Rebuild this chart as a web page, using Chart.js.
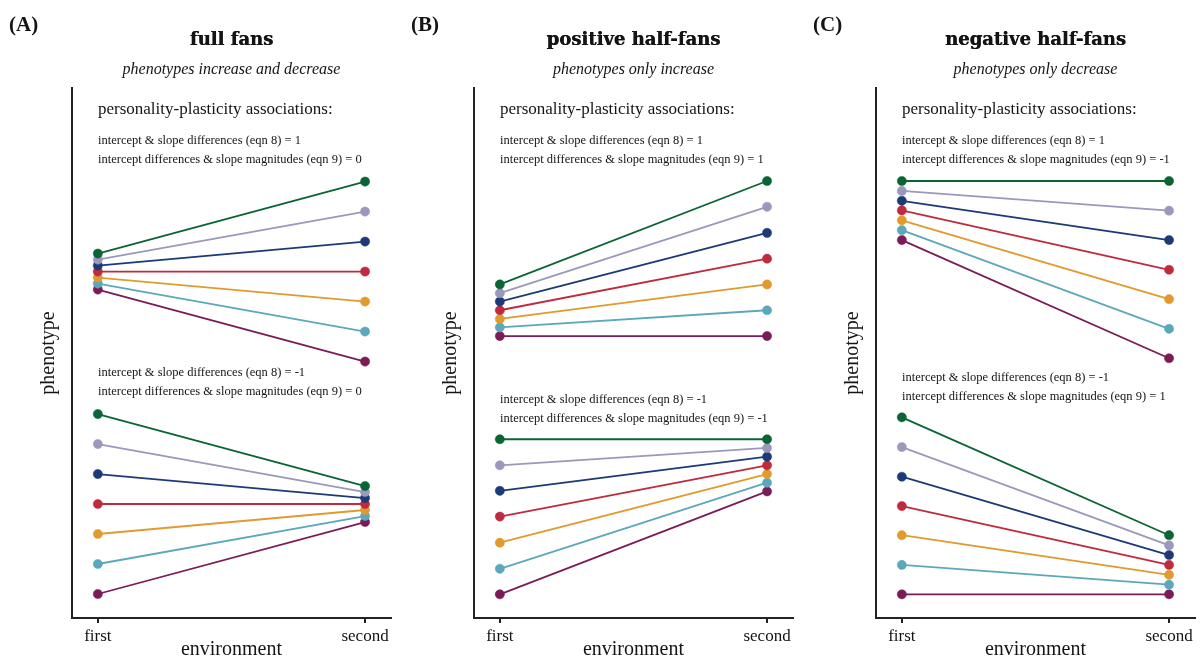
<!DOCTYPE html>
<html lang="en">
<head>
  <meta charset="UTF-8">
  <title>personality-plasticity fans</title>
  <script src="https://cdn.jsdelivr.net/npm/chart.js"></script>
  <style>
    body { margin: 0; background: #fff; }
    #wrap { position: relative; width: 1200px; height: 657px; overflow: hidden; }
    #wrap canvas { position: absolute; top: 0; }
  </style>
</head>
<body>
  <div id="wrap">
    <canvas id="panelA" width="396" height="657" style="left:0px"></canvas>
    <canvas id="panelB" width="396" height="657" style="left:402px"></canvas>
    <canvas id="panelC" width="396" height="657" style="left:804px"></canvas>
  </div>

  <script>
    // x positions: 0 = first environment, 1 = second environment
    const environments = ["first", "second"];
    const individualColors = ["#0b6434", "#9b98bc", "#1c3a76", "#bf2a3f", "#e09a2e", "#5ba8bb", "#7a1c56"];

    // (A) full fans
    const fullUpperFirst = [12.15, 11.95, 11.75, 11.55, 11.35, 11.15, 10.95];
    const fullUpperSecond = [14.55, 13.55, 12.55, 11.55, 10.55, 9.55, 8.55];
    const fullLowerFirst = [6.8, 5.8, 4.8, 3.8, 2.8, 1.8, 0.8];
    const fullLowerSecond = [4.4, 4.2, 4.0, 3.8, 3.6, 3.4, 3.2];

    // (B) positive half-fans
    const posUpperFirst = [11.12, 10.83, 10.55, 10.26, 9.97, 9.69, 9.4];
    const posUpperSecond = [14.57, 13.71, 12.84, 11.98, 11.12, 10.26, 9.4];
    const posLowerFirst = [5.96, 5.09, 4.24, 3.38, 2.51, 1.64, 0.79];
    const posLowerSecond = [5.96, 5.67, 5.38, 5.09, 4.8, 4.51, 4.22];

    // (C) negative half-fans
    const negUpperFirst = [14.57, 14.24, 13.91, 13.59, 13.26, 12.93, 12.6];
    const negUpperSecond = [14.57, 13.58, 12.6, 11.61, 10.63, 9.64, 8.66];
    const negLowerFirst = [6.69, 5.7, 4.71, 3.73, 2.76, 1.77, 0.79];
    const negLowerSecond = [2.76, 2.42, 2.1, 1.77, 1.44, 1.11, 0.79];

    const TEXT = "#141414";
    const SERIF = "'Liberation Serif', 'Times New Roman', serif";
    const HEAVY = "'DejaVu Serif', serif";

    Chart.defaults.font.family = SERIF;
    Chart.defaults.color = TEXT;

    function fanDatasets(first, second) {
      return first.map((v, i) => ({
        data: [{ x: 0, y: v }, { x: 1, y: second[i] }],
        borderColor: individualColors[i],
        backgroundColor: individualColors[i],
        pointBackgroundColor: individualColors[i],
        pointBorderColor: individualColors[i],
        borderWidth: 1.8,
        pointRadius: 4.6,
        pointBorderWidth: 0.5,
      }));
    }

    // titles and the association notes
    const panelText = {
      id: "panelText",
      afterDraw(chart, args, opts) {
        const { ctx, chartArea } = chart;
        const left = chartArea.left + 26;
        const mid = (chartArea.left + chartArea.right) / 2;
        ctx.save();
        ctx.fillStyle = TEXT;
        ctx.textBaseline = "alphabetic";

        ctx.textAlign = "left";
        ctx.font = "bold 21px " + SERIF;
        ctx.fillText(opts.label, 9, 31);

        ctx.textAlign = "center";
        ctx.font = "bold 18px " + HEAVY;
        ctx.fillText(opts.title, mid, 45);
        ctx.fillText(opts.title, mid + 0.4, 45);
        ctx.font = "italic 16px " + SERIF;
        ctx.fillText(opts.subtitle, mid, 74);

        ctx.textAlign = "left";
        ctx.font = "17px " + SERIF;
        ctx.fillText("personality-plasticity associations:", left, 114);
        ctx.font = "12.5px " + SERIF;
        ctx.fillText(opts.upper[0], left, 144);
        ctx.fillText(opts.upper[1], left, 163);
        ctx.fillText(opts.lower[0], left, opts.lowerY);
        ctx.fillText(opts.lower[1], left, opts.lowerY + 19);
        ctx.restore();
      }
    };

    function eqn8(v) { return "intercept & slope differences (eqn 8) = " + v; }
    function eqn9(v) { return "intercept differences & slope magnitudes (eqn 9) = " + v; }

    function makeChart(id, datasets, text) {
      return new Chart(document.getElementById(id), {
        type: "line",
        data: { datasets: datasets },
        plugins: [panelText],
        options: {
          responsive: false,
          animation: false,
          layout: { padding: { top: 88, right: 3, left: 0, bottom: 0 } },
          plugins: {
            legend: { display: false },
            tooltip: { enabled: false },
            panelText: text,
          },
          scales: {
            x: {
              type: "linear",
              min: -0.0967,
              max: 1.0967,
              afterBuildTicks: (s) => { s.ticks = [{ value: 0 }, { value: 1 }]; },
              afterFit: (s) => { s.height = 39; },
              ticks: {
                callback: (v) => environments[Math.round(v)],
                font: { size: 17 },
                color: TEXT,
                padding: 3,
                autoSkip: false,
                maxRotation: 0,
              },
              grid: { drawOnChartArea: false, drawTicks: true, tickLength: 5, color: "#222", lineWidth: 2 },
              border: { display: true, color: "#222", width: 2 },
              title: { display: true, text: "environment", font: { size: 20 }, color: TEXT, padding: { top: 0, bottom: -5 } },
            },
            y: {
              min: 0,
              max: 17.67,
              afterFit: (s) => { s.width = 72; },
              ticks: { display: false },
              grid: { display: false },
              border: { display: true, color: "#222", width: 2 },
              title: { display: true, text: "phenotype", font: { size: 20 }, color: TEXT, padding: { top: 37, bottom: 0 } },
            },
          },
        },
      });
    }

    makeChart("panelA", fanDatasets(fullUpperFirst, fullUpperSecond).concat(fanDatasets(fullLowerFirst, fullLowerSecond)), {
      label: "(A)", title: "full fans", subtitle: "phenotypes increase and decrease",
      upper: [eqn8(1), eqn9(0)], lower: [eqn8(-1), eqn9(0)], lowerY: 376,
    });
    makeChart("panelB", fanDatasets(posUpperFirst, posUpperSecond).concat(fanDatasets(posLowerFirst, posLowerSecond)), {
      label: "(B)", title: "positive half-fans", subtitle: "phenotypes only increase",
      upper: [eqn8(1), eqn9(1)], lower: [eqn8(-1), eqn9(-1)], lowerY: 403,
    });
    makeChart("panelC", fanDatasets(negUpperFirst, negUpperSecond).concat(fanDatasets(negLowerFirst, negLowerSecond)), {
      label: "(C)", title: "negative half-fans", subtitle: "phenotypes only decrease",
      upper: [eqn8(1), eqn9(-1)], lower: [eqn8(-1), eqn9(1)], lowerY: 381,
    });
  </script>
</body>
</html>
